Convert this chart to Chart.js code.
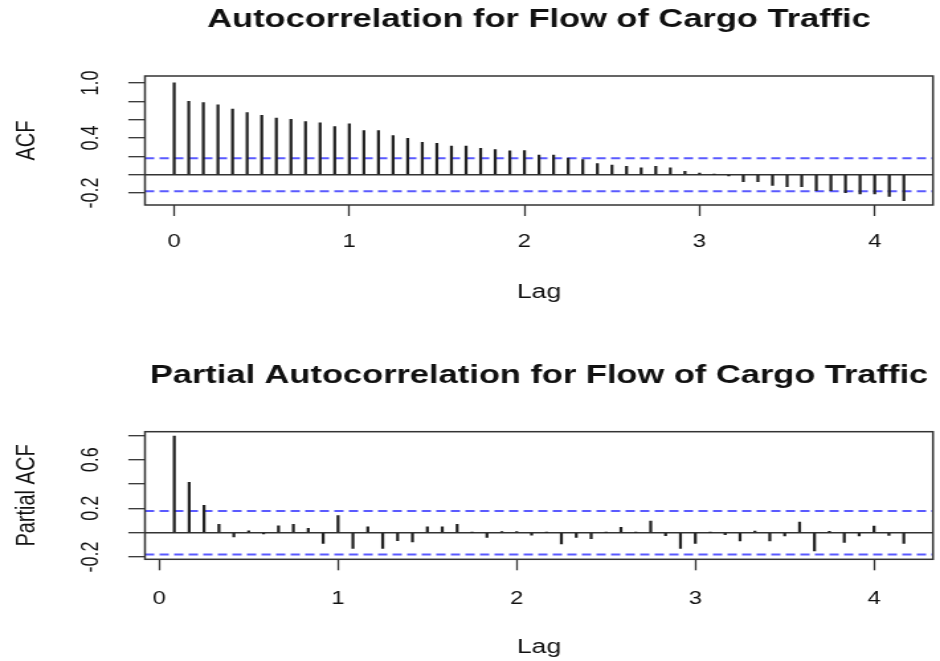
<!DOCTYPE html>
<html>
<head>
<meta charset="utf-8">
<title>ACF / PACF - Flow of Cargo Traffic</title>
<script src="https://cdn.jsdelivr.net/npm/chart.js@4.4.1/dist/chart.umd.min.js"></script>
<style>
  html, body { margin: 0; padding: 0; background: #fff; }
  body { width: 940px; height: 661px; overflow: hidden; }
  canvas { display: block; }
</style>
</head>
<body>
<!-- the original plot is stretched sideways, so the canvases are drawn narrow and widened by inline style -->
<canvas id="acf-chart" width="710" height="330" style="width:940px;height:330px"></canvas>
<canvas id="pacf-chart" width="710" height="331" style="width:940px;height:331px"></canvas>
<script>
// monthly series: lag k is shown as k / 12
const LAG_FREQ = 12;
const CONF_LIMIT = 0.179;

// ACF, lags 0..50
const acfValues = [
    1.0, 0.80, 0.785, 0.76, 0.716, 0.676, 0.647, 0.618, 0.604, 0.578,
    0.564, 0.524, 0.553, 0.48, 0.48, 0.425, 0.396, 0.353, 0.342, 0.313,
    0.313, 0.287, 0.273, 0.26, 0.262, 0.213, 0.215, 0.18, 0.164, 0.12,
    0.105, 0.09, 0.076, 0.09, 0.076, 0.036, 0.018, 0.003, -0.012, -0.076,
    -0.076, -0.116, -0.13, -0.13, -0.175, -0.175, -0.196, -0.21, -0.21, -0.236,
    -0.284
];

// PACF, lags 1..50
const pacfValues = [
    0.795, 0.414, 0.225, 0.068, -0.036, 0.016, -0.01, 0.056, 0.068, 0.036,
    -0.088, 0.14, -0.129, 0.047, -0.129, -0.066, -0.077, 0.047, 0.047, 0.068,
    0.003, -0.04, 0.008, 0.008, -0.02, 0.002, -0.092, -0.04, -0.05, 0.002,
    0.044, 0.002, 0.096, -0.025, -0.129, -0.088, 0.002, -0.016, -0.068, 0.014,
    -0.068, -0.027, 0.088, -0.15, 0.011, -0.08, -0.027, 0.055, -0.022, -0.088
];

const lagTicks = [0, 1, 2, 3, 4];
const acfYTicks = [-0.2, 0, 0.2, 0.4, 0.6, 0.8, 1.0];
const acfYLabels = ['-0.2', '', '', '0.4', '', '', '1.0'];
const pacfYTicks = [-0.2, 0, 0.2, 0.4, 0.6, 0.8];
const pacfYLabels = ['-0.2', '', '0.2', '', '0.6', ''];

const TEXT_COLOR = '#111';
const AXIS_COLOR = '#333';
const BAR_COLOR = '#222';
const CONF_COLOR = '#5a5aff';
const FONT_FAMILY = '"Liberation Sans", Arial, Helvetica, sans-serif';

Chart.defaults.font.family = FONT_FAMILY;
Chart.defaults.color = TEXT_COLOR;

// R draws a full box round the plot region
const plotBoxPlugin = {
    id: 'plotBox',
    afterDraw(chart) {
        const { ctx, chartArea } = chart;
        ctx.save();
        ctx.strokeStyle = AXIS_COLOR;
        ctx.lineWidth = 1.5;
        ctx.strokeRect(chartArea.left, chartArea.top, chartArea.right - chartArea.left, chartArea.bottom - chartArea.top);
        ctx.restore();
    }
};

/**
 * One correlogram panel: vertical spikes, zero line, dashed confidence bounds.
 */
function drawCorrelogram(canvasId, cfg) {
    const canvas = document.getElementById(canvasId);
    const spikes = cfg.values.map((v, k) => ({ x: (k + cfg.firstLag) / LAG_FREQ, y: v }));
    const bound = (y) => ({
        type: 'line',
        data: [{ x: cfg.xMin, y }, { x: cfg.xMax, y }],
        borderColor: CONF_COLOR,
        borderWidth: 2,
        borderDash: [7, 4],
        pointRadius: 0,
        fill: false
    });

    return new Chart(canvas, {
        type: 'bar',
        data: {
            datasets: [
                { type: 'bar', data: spikes, backgroundColor: BAR_COLOR, barThickness: 1.6, borderWidth: 0 },
                bound(CONF_LIMIT),
                bound(-CONF_LIMIT)
            ]
        },
        options: {
            responsive: false,
            animation: false,
            events: [],
            layout: { padding: { top: 0, left: 0, right: 5.3, bottom: cfg.padBottom } },
            plugins: {
                legend: { display: false },
                tooltip: { enabled: false },
                title: {
                    display: true,
                    text: cfg.title,
                    fullSize: false,
                    color: TEXT_COLOR,
                    font: { size: 26, weight: 'bold' },
                    padding: { top: cfg.titleTop, bottom: cfg.titleBottom }
                }
            },
            scales: {
                x: {
                    type: 'linear',
                    min: cfg.xMin,
                    max: cfg.xMax,
                    offset: false,
                    afterBuildTicks: (scale) => { scale.ticks = lagTicks.map((v) => ({ value: v })); },
                    afterFit: (scale) => { scale.height = cfg.xAxisHeight; },
                    border: { display: false },
                    grid: { drawOnChartArea: false, drawTicks: true, tickLength: 11, tickColor: AXIS_COLOR, tickWidth: 1.3, offset: false },
                    ticks: { autoSkip: false, maxRotation: 0, padding: cfg.tickPad, font: { size: 18 }, color: TEXT_COLOR, callback: (v) => String(v) },
                    title: { display: true, text: 'Lag', font: { size: 20 }, color: TEXT_COLOR, padding: 0 }
                },
                y: {
                    min: cfg.yMin,
                    max: cfg.yMax,
                    afterBuildTicks: (scale) => { scale.ticks = cfg.yTicks.map((v) => ({ value: v })); },
                    afterFit: (scale) => { scale.width = 109.5; },
                    border: { display: false },
                    grid: {
                        color: (ctx) => (ctx.tick && ctx.tick.value === 0 ? AXIS_COLOR : 'rgba(0,0,0,0)'),
                        lineWidth: 1.4,
                        drawTicks: true,
                        tickLength: 12.6,
                        tickColor: AXIS_COLOR,
                        tickWidth: 1.3
                    },
                    ticks: {
                        autoSkip: false,
                        minRotation: 90,
                        maxRotation: 90,
                        crossAlign: 'center',
                        padding: 12,
                        font: { size: 18 },
                        color: TEXT_COLOR,
                        callback: (v, i) => cfg.yLabels[i]
                    },
                    title: { display: true, text: cfg.yTitle, font: { size: 20 }, color: TEXT_COLOR, padding: { top: 8, bottom: 0 } }
                }
            }
        },
        plugins: [plotBoxPlugin]
    });
}

drawCorrelogram('acf-chart', {
    title: 'Autocorrelation for Flow of Cargo Traffic',
    yTitle: 'ACF',
    values: acfValues,
    firstLag: 0,
    xMin: -0.1667, xMax: 4.333,
    yMin: -0.33, yMax: 1.075,
    yTicks: acfYTicks, yLabels: acfYLabels,
    titleTop: 4.4, titleBottom: 40.4,
    tickPad: 15, xAxisHeight: 99, padBottom: 26
});

drawCorrelogram('pacf-chart', {
    title: 'Partial Autocorrelation for Flow of Cargo Traffic',
    yTitle: 'Partial ACF',
    values: pacfValues,
    firstLag: 1,
    xMin: -0.0806, xMax: 4.33,
    yMin: -0.219, yMax: 0.83,
    yTicks: pacfYTicks, yLabels: pacfYLabels,
    titleTop: 30.4, titleBottom: 40.1,
    tickPad: 18, xAxisHeight: 100, padBottom: 1.7
});
</script>
</body>
</html>
